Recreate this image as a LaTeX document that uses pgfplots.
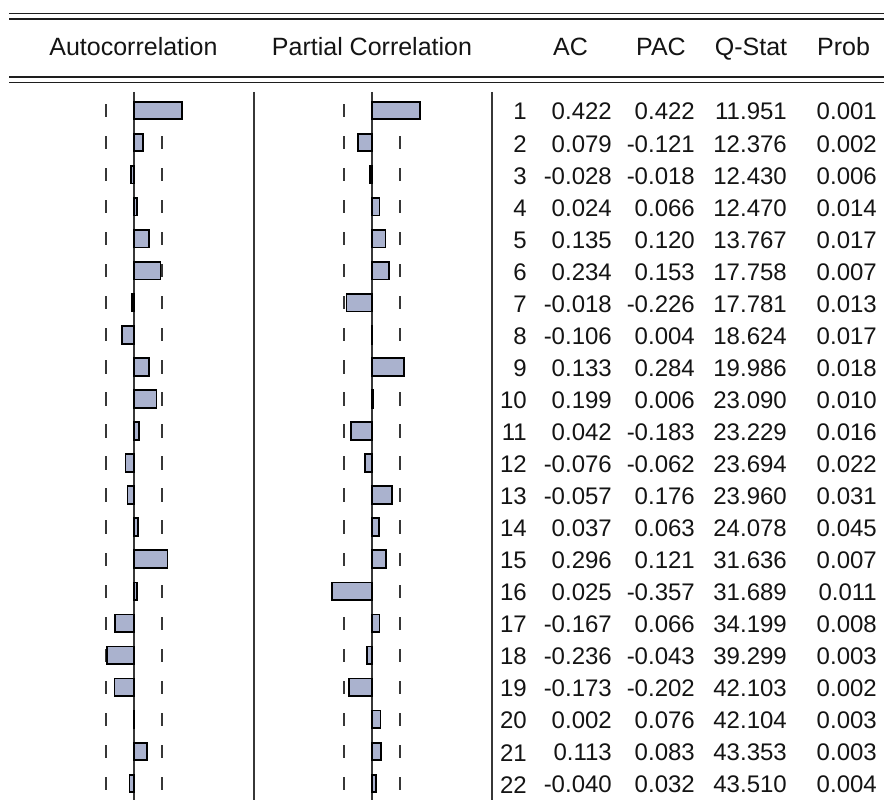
\documentclass[border=0pt]{standalone}
\usepackage{pgfplots}
\pgfplotsset{compat=1.18}
\usepackage{pgfplotstable}
\usepackage{fontspec}
\setmainfont{Liberation Sans}
\definecolor{barfill}{RGB}{170,178,206}
\definecolor{lgray}{RGB}{55,55,55}
\definecolor{rulec}{RGB}{30,30,30}
\definecolor{txt}{RGB}{20,20,20}
\newcommand\fs{\fontsize{24}{28}\selectfont}
\newcommand\hfs{\fontsize{25}{29}\selectfont}
\pgfplotstableread{
lag ac pac q prob
1 0.422 0.422 11.951 0.001
2 0.079 -0.121 12.376 0.002
3 -0.028 -0.018 12.430 0.006
4 0.024 0.066 12.470 0.014
5 0.135 0.120 13.767 0.017
6 0.234 0.153 17.758 0.007
7 -0.018 -0.226 17.781 0.013
8 -0.106 0.004 18.624 0.017
9 0.133 0.284 19.986 0.018
10 0.199 0.006 23.090 0.010
11 0.042 -0.183 23.229 0.016
12 -0.076 -0.062 23.694 0.022
13 -0.057 0.176 23.960 0.031
14 0.037 0.063 24.078 0.045
15 0.296 0.121 31.636 0.007
16 0.025 -0.357 31.689 0.011
17 -0.167 0.066 34.199 0.008
18 -0.236 -0.043 39.299 0.003
19 -0.173 -0.202 42.103 0.002
20 0.002 0.076 42.104 0.003
21 0.113 0.083 43.353 0.003
22 -0.040 0.032 43.510 0.004
}\corr
\pgfplotstableread{
lag lo hi
1 -0.25 0.25
2 -0.25 0.25
3 -0.25 0.25
4 -0.25 0.25
5 -0.25 0.25
6 -0.25 0.25
7 -0.25 0.25
8 -0.25 0.25
9 -0.25 0.25
10 -0.25 0.25
11 -0.25 0.25
12 -0.25 0.25
13 -0.25 0.25
14 -0.25 0.25
15 -0.25 0.25
16 -0.25 0.25
17 -0.25 0.25
18 -0.25 0.25
19 -0.25 0.25
20 -0.25 0.25
21 -0.25 0.25
22 -0.25 0.25
}\bands
\pgfplotsset{
  panel/.style={scale only axis, width=226pt, height=705pt, xmin=-1, xmax=1,
    ymin=0.5, ymax=22.5, y dir=reverse, axis lines=none, clip=false, anchor=south west},
  bandmk/.style={draw=none, mark=none, forget plot,
    error bars/.cd, y dir=both, y fixed=0.207, error mark=none,
    error bar style={draw=lgray, line width=2pt, solid}},
  bars/.style={xbar, bar width=17.6pt, fill=barfill, draw=black, line width=1.8pt},
  txtcol/.style={draw=none, mark=none, nodes near coords, point meta=explicit symbolic,
    every node near coord/.append style={anchor=east, inner sep=0pt, font=\fs, text=txt, yshift=-1.2pt}}
}
\begin{document}
\begin{tikzpicture}
\path[use as bounding box] (0,0) rectangle (884pt,810pt);
% left panel
\begin{axis}[panel, at={(21pt,10.5pt)}]
\addplot[draw=lgray, line width=1.8pt] coordinates {(0,0.42) (0,22.5)};
\addplot[bandmk] table[x=lo,y=lag]{\bands};
\addplot[bandmk] table[x=hi,y=lag]{\bands};
\addplot[bars] table[x=ac,y=lag]{\corr};
\end{axis}
% right panel
\begin{axis}[panel, at={(259pt,10.5pt)}]
\addplot[draw=lgray, line width=1.8pt] coordinates {(0,0.42) (0,22.5)};
\addplot[bandmk] table[x=lo,y=lag]{\bands};
\addplot[bandmk] table[x=hi,y=lag]{\bands};
\addplot[bars] table[x=pac,y=lag]{\corr};
\end{axis}
% table text
\begin{axis}[scale only axis, width=884pt, height=705pt, xmin=0, xmax=884,
  ymin=0.5, ymax=22.5, y dir=reverse, axis lines=none, clip=false,
  at={(0pt,10.5pt)}, anchor=south west]
\addplot[txtcol] table[x expr=527, y=lag, meta=lag]{\corr};
\addplot[txtcol] table[x expr=612, y=lag, meta=ac]{\corr};
\addplot[txtcol] table[x expr=695, y=lag, meta=pac]{\corr};
\addplot[txtcol] table[x expr=787, y=lag, meta=q]{\corr};
\addplot[txtcol] table[x expr=877, y=lag, meta=prob]{\corr};
\draw[lgray, line width=1.8pt] (axis cs:254,0.42) -- (axis cs:254,22.5);
\draw[lgray, line width=1.8pt] (axis cs:492,0.42) -- (axis cs:492,22.5);
\draw[rulec, line width=1.6pt] (axis cs:9,-2.033) -- (axis cs:884,-2.033);
\draw[rulec, line width=1.6pt] (axis cs:9,-1.855) -- (axis cs:884,-1.855);
\draw[rulec, line width=1.6pt] (axis cs:9,-0.055) -- (axis cs:884,-0.055);
\draw[rulec, line width=1.6pt] (axis cs:9,0.12) -- (axis cs:884,0.12);
\node[font=\hfs, anchor=base, text=txt, inner sep=0pt] at (axis cs:133.5,-0.732) {Autocorrelation};
\node[font=\hfs, anchor=base, text=txt, inner sep=0pt] at (axis cs:372,-0.732) {Partial Correlation};
\node[font=\hfs, anchor=base, text=txt, inner sep=0pt] at (axis cs:570.5,-0.732) {AC};
\node[font=\hfs, anchor=base, text=txt, inner sep=0pt] at (axis cs:661,-0.732) {PAC};
\node[font=\hfs, anchor=base, text=txt, inner sep=0pt] at (axis cs:751,-0.732) {Q-Stat};
\node[font=\hfs, anchor=base, text=txt, inner sep=0pt] at (axis cs:843.5,-0.732) {Prob};
\end{axis}
\end{tikzpicture}
\end{document}
